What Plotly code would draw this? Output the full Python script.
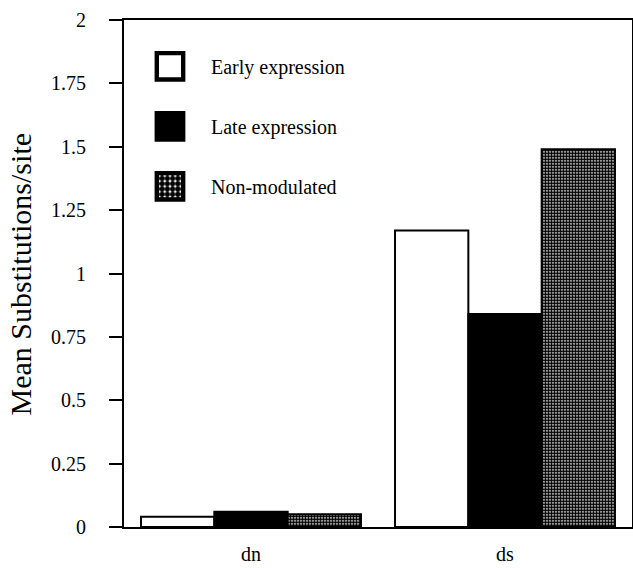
import plotly.graph_objects as go

categories = ["dn", "ds"]
series_names = ["Early expression", "Late expression", "Non-modulated"]
early = [0.04, 1.17]
late = [0.06, 0.84]
nonmod = [0.05, 1.49]
y_ticks = [0, 0.25, 0.5, 0.75, 1, 1.25, 1.5, 1.75, 2]
y_ticklabels = ["0", "0.25", "0.5", "0.75", "1", "1.25", "1.5", "1.75", "2"]
y_title = "Mean Substitutions/site"

FONT = "Liberation Serif, Times New Roman, serif"

fig = go.Figure()
fig.add_trace(go.Bar(x=categories, y=early, name=series_names[0], legendgroup="a",
                     marker=dict(color="white", line=dict(color="black", width=2))))
fig.add_trace(go.Bar(x=categories, y=late, name=series_names[1], legendgroup="b",
                     marker=dict(color="black", line=dict(color="black", width=2))))
fig.add_trace(go.Bar(x=categories, y=nonmod, name=series_names[2], legendgroup="c",
                     marker=dict(color="white", line=dict(color="black", width=2),
                                 pattern=dict(shape=".", size=3, solidity=0.75,
                                              fgcolor="black", bgcolor="white",
                                              fillmode="replace"))))

fig.update_layout(
    width=633, height=568,
    margin=dict(l=124, r=1, t=20, b=41, autoexpand=False),
    paper_bgcolor="white", plot_bgcolor="white",
    barmode="group", bargap=0.134, bargroupgap=0,
    font=dict(family=FONT, color="black", size=18),
    showlegend=True,
    legend=dict(x=0.0925, y=0.947, xanchor="left", yanchor="top",
                font=dict(family=FONT, size=20, color="black"),
                tracegroupgap=31, bgcolor="rgba(0,0,0,0)", traceorder="grouped",
                borderwidth=0),
    annotations=[dict(text=y_title, textangle=-90, xref="paper", yref="paper",
                      x=-0.2028, y=0.5, xanchor="center", yanchor="middle",
                      showarrow=False, font=dict(family=FONT, size=30, color="black"))],
)
fig.update_xaxes(range=[-0.5, 1.5], showline=True, linecolor="black", linewidth=2,
                 mirror=True, ticks="", showgrid=False, zeroline=False, automargin=False,
                 tickfont=dict(family=FONT, size=20), ticklabelstandoff=8)
fig.update_yaxes(range=[0, 2], tickvals=y_ticks, ticktext=y_ticklabels,
                 showline=True, linecolor="black", linewidth=2, mirror=True,
                 ticks="outside", ticklen=13, tickwidth=2, tickcolor="black",
                 showgrid=False, zeroline=False, ticklabelstandoff=19, automargin=False,
                 tickfont=dict(family=FONT, size=20))

post = """
var gd = document.getElementById('{plot_id}');
gd.querySelectorAll('.legend [clip-path]').forEach(function(e){
  e.removeAttribute('clip-path');
});
gd.querySelectorAll('.legend .legendpoints').forEach(function(g){
  g.setAttribute('transform', 'translate(-45,0) scale(2.2)');
});
"""
fig.write_html("out.html", post_script=post)
